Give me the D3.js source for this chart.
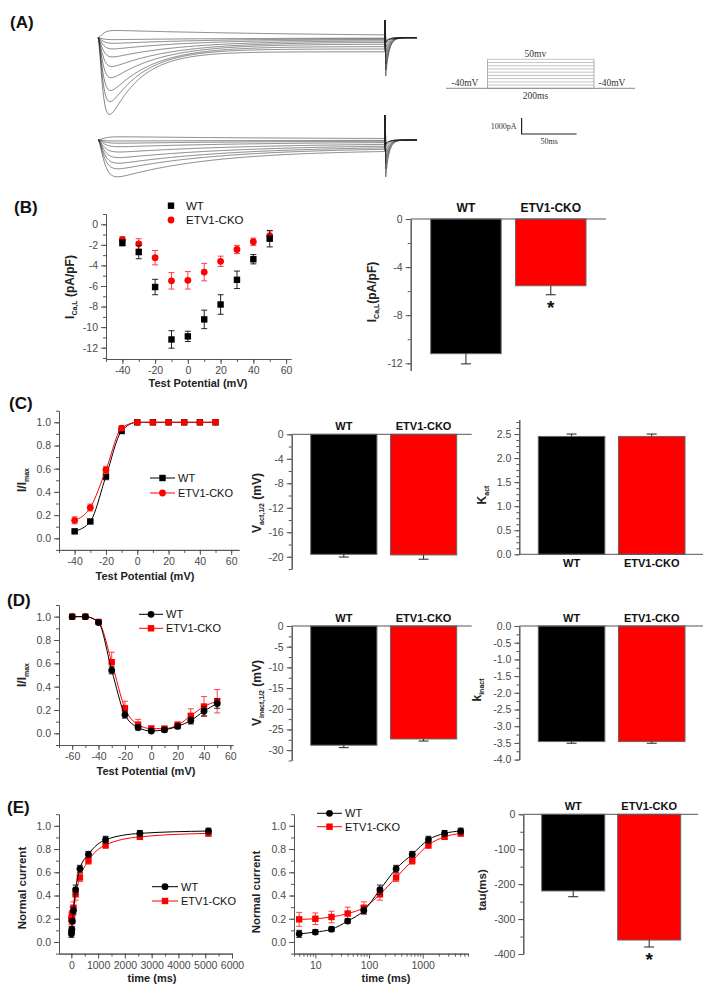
<!DOCTYPE html>
<html>
<head>
<meta charset="utf-8">
<script src="https://cdn.jsdelivr.net/npm/d3@7/dist/d3.min.js"></script>
<style>
  body { margin: 0; background: #fff; }
</style>
</head>
<body>
<svg id="fig" width="709" height="990"></svg>
<script>
// ---- data ----
const groups = ['WT', 'ETV1-CKO'];

// (A) raw traces: peak amplitude (pA) and inactivation tau (ms) of each sweep
const wtTracePeak = [4800, 4000, 3300, 2500, 1800, 1200, 700, 350, 120, -450];
const wtTraceTau = [28, 32, 38, 45, 55, 65, 75, 90, 110, 200];
const ckoTracePeak = [2300, 1800, 1450, 1100, 750, 420, 200, 60, -200];
const ckoTraceTau = [85, 95, 105, 115, 125, 135, 145, 160, 200];

// (B) I-V
const ivVoltage = [-40, -30, -20, -10, 0, 10, 20, 30, 40, 50];
const ivWT = [-1.8, -2.7, -6.1, -11.2, -10.9, -9.25, -7.8, -5.4, -3.4, -1.4];
const ivWTErr = [0.3, 0.65, 0.75, 0.85, 0.5, 0.9, 0.95, 0.85, 0.45, 0.8];
const ivCKO = [-1.5, -1.9, -3.25, -5.5, -5.45, -4.65, -3.6, -2.45, -1.7, -1.1];
const ivCKOErr = [0.3, 0.5, 0.7, 0.8, 0.85, 0.85, 0.5, 0.4, 0.35, 0.45];
const peakCurrent = [-11.2, -5.55];
const peakCurrentErr = [0.85, 0.75];

// (C) activation
const actVoltage = [-40, -30, -20, -10, 0, 10, 20, 30, 40, 50];
const actWT = [0.06, 0.145, 0.535, 0.925, 1, 1, 1, 1, 1, 1];
const actWTErr = [0.01, 0.01, 0.03, 0.02, 0, 0, 0, 0, 0, 0];
const actCKO = [0.155, 0.265, 0.59, 0.95, 1, 1, 1, 1, 1, 1];
const actCKOErr = [0.03, 0.03, 0.03, 0.02, 0, 0, 0, 0, 0, 0];
const vHalfAct = [-19.6, -19.7];
const vHalfActErr = [0.45, 0.7];
const kAct = [2.45, 2.45];
const kActErr = [0.05, 0.05];

// (D) inactivation
const inactVoltage = [-60, -50, -40, -30, -20, -10, 0, 10, 20, 30, 40, 50];
const inactWT = [1.0, 1.0, 0.95, 0.54, 0.16, 0.05, 0.02, 0.03, 0.06, 0.11, 0.19, 0.255];
const inactWTErr = [0.005, 0.005, 0.01, 0.03, 0.03, 0.02, 0.015, 0.02, 0.02, 0.03, 0.04, 0.04];
const inactCKO = [1.0, 1.0, 0.955, 0.61, 0.215, 0.075, 0.04, 0.04, 0.07, 0.15, 0.23, 0.275];
const inactCKOErr = [0.005, 0.005, 0.01, 0.085, 0.06, 0.045, 0.025, 0.02, 0.03, 0.06, 0.085, 0.1];
const vHalfInact = [-28.8, -27.3];
const vHalfInactErr = [0.6, 0.5];
const kInact = [-3.46, -3.46];
const kInactErr = [0.05, 0.05];

// (E) recovery
const recTime = [5, 10, 20, 40, 80, 160, 320, 640, 1280, 2560, 5120];
const recWT = [0.07, 0.085, 0.11, 0.18, 0.27, 0.45, 0.63, 0.755, 0.88, 0.935, 0.955];
const recWTErr = [0.03, 0.02, 0.02, 0.02, 0.03, 0.04, 0.03, 0.025, 0.03, 0.025, 0.025];
const recCKO = [0.195, 0.2, 0.215, 0.245, 0.295, 0.41, 0.555, 0.7, 0.835, 0.905, 0.935];
const recCKOErr = [0.06, 0.05, 0.05, 0.055, 0.05, 0.05, 0.035, 0.03, 0.03, 0.02, 0.025];
const tauRec = [-219.5, -360];
const tauRecErr = [16.5, 20];

// ---- helpers ----
const FONT = '"Liberation Sans", Arial, sans-serif';
const SERIF = '"Liberation Serif", "Times New Roman", serif';
const AX = '#555';
const RED = '#ff0000';
const svg = d3.select('#fig');

const fmtInt = d => String(d);
const fmt1 = d => d.toFixed(1);

function styleAxis(g) {
  g.attr('font-family', FONT).attr('font-size', 10.5);
  g.select('.domain').attr('stroke', AX);
  g.selectAll('.tick line').attr('stroke', AX);
  g.selectAll('.tick text').attr('fill', '#4a4a4a');
}

function leftAxis(y, x0, major, minor, fmt) {
  const gm = svg.append('g').attr('transform', `translate(${x0},0)`)
    .call(d3.axisLeft(y).tickValues(minor).tickSize(3).tickSizeOuter(0).tickFormat(''));
  styleAxis(gm);
  const g = svg.append('g').attr('transform', `translate(${x0},0)`)
    .call(d3.axisLeft(y).tickValues(major).tickSize(5).tickSizeOuter(0).tickFormat(fmt));
  styleAxis(g);
}

function bottomAxis(x, y0, major, minor, fmt) {
  const gm = svg.append('g').attr('transform', `translate(0,${y0})`)
    .call(d3.axisBottom(x).tickValues(minor).tickSize(3).tickSizeOuter(0).tickFormat(''));
  styleAxis(gm);
  const g = svg.append('g').attr('transform', `translate(0,${y0})`)
    .call(d3.axisBottom(x).tickValues(major).tickSize(5).tickSizeOuter(0).tickFormat(fmt));
  styleAxis(g);
}

function panelLabel(txt, x, y) {
  svg.append('text').attr('x', x).attr('y', y).text(txt)
    .attr('font-family', FONT).attr('font-weight', 'bold').attr('font-size', 17).attr('fill', '#111');
}

// rotated title, parts = [[text, isSub], ...]
function yTitle(parts, x, y, size) {
  const t = svg.append('text').attr('transform', `translate(${x},${y}) rotate(-90)`)
    .attr('text-anchor', 'middle').attr('font-family', FONT).attr('font-weight', 'bold')
    .attr('font-size', size || 11.5).attr('fill', '#222');
  let shifted = false;
  parts.forEach(([s, sub]) => {
    const ts = t.append('tspan').text(s);
    if (sub && !shifted) { ts.attr('dy', 3).attr('font-size', 7); shifted = true; }
    else if (!sub && shifted) { ts.attr('dy', -3); shifted = false; }
  });
}

function xTitle(txt, x, y) {
  svg.append('text').attr('x', x).attr('y', y).attr('text-anchor', 'middle').text(txt)
    .attr('font-family', FONT).attr('font-weight', 'bold').attr('font-size', 11).attr('fill', '#222');
}

function marker(g, shape, cx, cy, color) {
  if (shape === 'square') {
    g.append('rect').attr('x', cx - 3.2).attr('y', cy - 3.2).attr('width', 6.4).attr('height', 6.4).attr('fill', color);
  } else {
    g.append('circle').attr('cx', cx).attr('cy', cy).attr('r', 3.4).attr('fill', color);
  }
}

function series(x, y, xs, vals, errs, color, errColor, shape, withLine) {
  const pts = xs.map((d, i) => ({ t: d, v: vals[i], e: errs[i] }));
  const g = svg.append('g');
  if (withLine) {
    g.append('path').datum(pts)
      .attr('d', d3.line().x(d => x(d.t)).y(d => y(d.v)).curve(d3.curveMonotoneX))
      .attr('fill', 'none').attr('stroke', color).attr('stroke-width', 1);
  }
  g.selectAll('path.err').data(pts.filter(d => d.e > 0)).join('path').attr('class', 'err')
    .attr('d', d => {
      const cx = x(d.t), y1 = y(d.v - d.e), y2 = y(d.v + d.e);
      return `M${cx},${y1}V${y2}M${cx - 3},${y1}H${cx + 3}M${cx - 3},${y2}H${cx + 3}`;
    })
    .attr('fill', 'none').attr('stroke', errColor).attr('stroke-width', 1);
  pts.forEach(d => marker(g, shape, x(d.t), y(d.v), color));
}

function legendRow(x0, x1, y, shape, color, label, withLine, size, textX) {
  const g = svg.append('g');
  if (withLine) g.append('line').attr('x1', x0).attr('x2', x1).attr('y1', y).attr('y2', y).attr('stroke', color).attr('stroke-width', 1);
  marker(g, shape, (x0 + x1) / 2, y, color);
  g.append('text').attr('x', textX || x1 + 3).attr('y', y + 4).text(label)
    .attr('font-family', FONT).attr('font-size', size || 11).attr('fill', '#111');
}

function barPanel(o) {
  const x = d3.scaleBand().domain(groups).range(o.band).paddingInner(0.17);
  const y = d3.scaleLinear().domain(o.yDomain).range(o.yRange);
  const y0 = y(0);
  const colors = ['#000', RED];
  const g = svg.append('g');
  g.selectAll('rect').data(o.values).join('rect')
    .attr('x', (d, i) => x(groups[i]))
    .attr('width', x.bandwidth())
    .attr('y', d => Math.min(y(d), y0))
    .attr('height', d => Math.abs(y(d) - y0))
    .attr('fill', (d, i) => colors[i])
    .attr('stroke', '#666').attr('stroke-width', 1);
  g.selectAll('path.err').data(o.values).join('path').attr('class', 'err')
    .attr('d', (d, i) => {
      const cx = x(groups[i]) + x.bandwidth() / 2;
      const ye = y(d < 0 ? d - o.errors[i] : d + o.errors[i]);
      return `M${cx},${y(d)}V${ye}M${cx - 5},${ye}H${cx + 5}`;
    })
    .attr('fill', 'none').attr('stroke', '#222').attr('stroke-width', 1);
  // category axis line
  svg.append('line').attr('x1', o.axisX).attr('x2', o.lineEnd).attr('y1', y0).attr('y2', y0)
    .attr('stroke', AX).attr('stroke-width', 1);
  leftAxis(y, o.axisX, o.major, o.minor, o.fmt);
  groups.forEach((name, i) => {
    svg.append('text').attr('x', x(name) + x.bandwidth() / 2)
      .attr('y', o.labelsBelow ? y0 + 13 : y0 - o.labelGap)
      .attr('text-anchor', 'middle').text(name)
      .attr('font-family', FONT).attr('font-weight', 'bold').attr('font-size', o.labelSize).attr('fill', '#111');
  });
  (o.stars || []).forEach(i => {
    const d = o.values[i];
    svg.append('text').attr('x', x(groups[i]) + x.bandwidth() / 2)
      .attr('y', y(d - o.errors[i]) + 19).attr('text-anchor', 'middle').text('*')
      .attr('font-family', FONT).attr('font-weight', 'bold').attr('font-size', 19).attr('fill', '#111');
  });
}

// ---- (A) traces ----
panelLabel('(A)', 10, 28);
const traceX = d3.scaleLinear().domain([0, 290]).range([98, 417]);
const stepEnd = 261;
const yTraceWT = d3.scaleLinear().domain([0, -1000]).range([37.7, 53.7]);
const yTraceCKO = d3.scaleLinear().domain([0, -1000]).range([140, 156]);

function tracePoints(peak, tauInact, tauAct, sus, tailGain, spikeUp) {
  const shape = t => Math.pow(1 - Math.exp(-t / tauAct), 2) * ((1 - sus) * Math.exp(-t / tauInact) + sus);
  const steps = d3.range(0, stepEnd, 0.5);
  const norm = d3.max(steps, shape);
  const pts = steps.map(t => [t, -peak * shape(t) / norm]);
  const tail = Math.max(250, tailGain * Math.abs(peak));
  pts.push([stepEnd, spikeUp], [stepEnd + 0.6, -tail]);
  d3.range(stepEnd + 1, 290.5, 0.5).forEach(t => pts.push([t, -tail * Math.exp(-(t - stepEnd - 0.6) / 3)]));
  return pts;
}

function traceSet(peaks, taus, yScale, tauAct, sus, tailGain, spikeUp) {
  const line = d3.line().x(d => traceX(d[0])).y(d => yScale(d[1]));
  svg.append('g').selectAll('path').data(peaks).join('path')
    .attr('d', (p, i) => line(tracePoints(p, taus[i], tauAct, sus, tailGain, spikeUp)))
    .attr('fill', 'none').attr('stroke', '#222').attr('stroke-width', 0.7).attr('stroke-opacity', 0.8);
}
traceSet(wtTracePeak, wtTraceTau, yTraceWT, 3.5, 0.12, 0.5, 1100);
traceSet(ckoTracePeak, ckoTraceTau, yTraceCKO, 4.5, 0.22, 1.0, 1560);

// voltage protocol
const protoT = d3.scaleLinear().domain([-78, 277]).range([446, 635]);
const protoV = d3.scaleLinear().domain([-40, 50]).range([88.3, 59.3]);
svg.append('g').selectAll('line').data(ivVoltage).join('line')
  .attr('x1', protoT(0)).attr('x2', protoT(200))
  .attr('y1', d => protoV(d)).attr('y2', d => protoV(d))
  .attr('stroke', '#aaa').attr('stroke-width', 0.7);
[0, 200].forEach(t => svg.append('line').attr('x1', protoT(t)).attr('x2', protoT(t))
  .attr('y1', protoV(-40)).attr('y2', protoV(50)).attr('stroke', '#999').attr('stroke-width', 0.8));
svg.append('line').attr('x1', protoT(-78)).attr('x2', protoT(277)).attr('y1', protoV(-40)).attr('y2', protoV(-40))
  .attr('stroke', '#888').attr('stroke-width', 1);
function serifText(txt, x, y, size, anchor) {
  svg.append('text').attr('x', x).attr('y', y).text(txt).attr('text-anchor', anchor || 'middle')
    .attr('font-family', SERIF).attr('font-size', size).attr('fill', '#333');
}
serifText('50mv', protoT(90), 56.5, 9.5);
serifText('-40mV', 465, 85.5, 9.5);
serifText('-40mV', 612, 85.5, 9.5);
serifText('200ms', protoT(90), 99, 9.5);
// scale bar
const sbX = 521.6, sbY = 134;
const barLen = traceX(50) - traceX(0);
const barH = yTraceWT(-1000) - yTraceWT(0);
svg.append('path').attr('d', `M${sbX},${sbY - barH}V${sbY}H${sbX + barLen}`)
  .attr('fill', 'none').attr('stroke', '#222').attr('stroke-width', 1.2);
serifText('1000pA', sbX - 5, 128.5, 8, 'end');
serifText('50ms', sbX + barLen / 2, 144, 8);

// ---- (B) ----
panelLabel('(B)', 14, 213);
const xB = d3.scaleLinear().domain([-50, 63]).range([106, 291]);
const yB = d3.scaleLinear().domain([-13.1, 1]).range([359, 214]);
leftAxis(yB, 106, d3.range(0, -13, -2), d3.range(-13, 2, 1), fmtInt);
bottomAxis(xB, 359, [-40, -20, 0, 20, 40, 60], d3.range(-50, 61, 10), fmtInt);
series(xB, yB, ivVoltage, ivCKO, ivCKOErr, RED, '#ff4040', 'circle', false);
series(xB, yB, ivVoltage, ivWT, ivWTErr, '#000', '#222', 'square', false);
yTitle([['I', false], ['Ca,L', true], [' (pA/pF)', false]], 74, 287, 12);
xTitle('Test Potential (mV)', 198, 387);
legendRow(168, 174, 205.7, 'square', '#000', 'WT', false, 11.5, 186);
legendRow(168, 174, 220, 'circle', RED, 'ETV1-CKO', false, 11.5, 186);

barPanel({
  values: peakCurrent, errors: peakCurrentErr, band: [430.7, 586], axisX: 410.7, lineEnd: 606,
  yDomain: [-12.6, 0], yRange: [370.5, 219], major: [0, -4, -8, -12], minor: d3.range(0, -12.6, -2),
  fmt: fmtInt, labelGap: 7, labelSize: 12, stars: [1]
});
yTitle([['I', false], ['Ca,L', true], ['(pA/pF)', false]], 376, 292, 12);

// ---- (C) ----
panelLabel('(C)', 9, 409);
const xC = d3.scaleLinear().domain([-50, 65]).range([59, 239]);
const yC = d3.scaleLinear().domain([-0.1, 1.1]).range([549.9, 410.7]);
leftAxis(yC, 59, d3.range(0, 1.01, 0.2), d3.range(-0.1, 1.11, 0.1), fmt1);
bottomAxis(xC, 549.9, [-40, -20, 0, 20, 40, 60], d3.range(-50, 61, 10), fmtInt);
series(xC, yC, actVoltage, actWT, actWTErr, '#000', '#222', 'square', true);
series(xC, yC, actVoltage, actCKO, actCKOErr, RED, '#ff4040', 'circle', true);
legendRow(150, 175, 478, 'square', '#000', 'WT', true, 11);
legendRow(150, 175, 493, 'circle', RED, 'ETV1-CKO', true, 11);
yTitle([['I/I', false], ['max', true]], 26, 480, 12);
xTitle('Test Potential (mV)', 145, 580);

barPanel({
  values: vHalfAct, errors: vHalfActErr, band: [310.7, 456.7], axisX: 291.7, lineEnd: 471.7,
  yDomain: [-22, 0], yRange: [569, 434.3], major: d3.range(0, -21, -4), minor: d3.range(0, -22.1, -2),
  fmt: fmtInt, labelGap: 4.5, labelSize: 11
});
yTitle([['V', false], ['act,1/2', true], [' (mV)', false]], 261, 503, 12);

barPanel({
  values: kAct, errors: kActErr, band: [538.3, 685], axisX: 519.3, lineEnd: 703,
  yDomain: [0, 2.8], yRange: [554.3, 419.6], major: d3.range(0, 2.51, 0.5), minor: d3.range(0, 2.81, 0.125),
  fmt: fmt1, labelsBelow: true, labelSize: 11
});
yTitle([['K', false], ['act', true]], 486, 495, 12);

// ---- (D) ----
panelLabel('(D)', 7, 606);
const xD = d3.scaleLinear().domain([-70, 62]).range([59, 233]);
const yD = d3.scaleLinear().domain([-0.1, 1.1]).range([745, 605]);
leftAxis(yD, 59, d3.range(0, 1.01, 0.2), d3.range(-0.1, 1.11, 0.1), fmt1);
bottomAxis(xD, 745, [-60, -40, -20, 0, 20, 40, 60], d3.range(-70, 61, 10), fmtInt);
series(xD, yD, inactVoltage, inactCKO, inactCKOErr, RED, '#ff4040', 'square', true);
series(xD, yD, inactVoltage, inactWT, inactWTErr, '#000', '#222', 'circle', true);
legendRow(139, 163, 614.3, 'circle', '#000', 'WT', true, 11);
legendRow(139, 163, 628.3, 'square', RED, 'ETV1-CKO', true, 11);
yTitle([['I/I', false], ['max', true]], 26, 675, 12);
xTitle('Test Potential (mV)', 146, 775);

barPanel({
  values: vHalfInact, errors: vHalfInactErr, band: [310.7, 456.7], axisX: 291.7, lineEnd: 471.7,
  yDomain: [-32.5, 0], yRange: [760.5, 626], major: d3.range(0, -31, -5), minor: d3.range(0, -32.6, -2.5),
  fmt: fmtInt, labelGap: 4.5, labelSize: 11
});
yTitle([['V', false], ['inact,1/2', true], [' (mV)', false]], 261, 693, 12);

barPanel({
  values: kInact, errors: kInactErr, band: [538.3, 685], axisX: 519.3, lineEnd: 703,
  yDomain: [-4, 0], yRange: [759.6, 626], major: d3.range(0, -4.01, -0.5), minor: d3.range(0, -4.01, -0.25),
  fmt: fmt1, labelGap: 4.5, labelSize: 11
});
yTitle([['k', false], ['inact', true]], 481, 690, 12);

// ---- (E) ----
panelLabel('(E)', 7, 813);
const xE = d3.scaleLinear().domain([-460, 6000]).range([59, 232]);
const yE = d3.scaleLinear().domain([-0.1, 1.1]).range([953.6, 814.2]);
leftAxis(yE, 59, d3.range(0, 1.01, 0.2), d3.range(-0.1, 1.11, 0.1), fmt1);
bottomAxis(xE, 953.6, d3.range(0, 6001, 1000), d3.range(0, 6001, 500), fmtInt);
series(xE, yE, recTime, recCKO, recCKOErr, RED, '#ff4040', 'square', true);
series(xE, yE, recTime, recWT, recWTErr, '#000', '#222', 'circle', true);
legendRow(152, 178, 886.7, 'circle', '#000', 'WT', true, 11);
legendRow(152, 178, 901, 'square', RED, 'ETV1-CKO', true, 11);
yTitle([['Normal current', false]], 26, 888, 11.5);
xTitle('time (ms)', 152, 982);

const xE2 = d3.scaleLog().domain([4, 7000]).range([294, 468]);
const logMinor = [4, 5, 6, 7, 8, 9, 20, 30, 40, 50, 60, 70, 80, 90, 200, 300, 400, 500, 600, 700, 800, 900, 2000, 3000, 4000, 5000, 6000, 7000];
leftAxis(yE, 294, d3.range(0, 1.01, 0.2), d3.range(-0.1, 1.11, 0.1), fmt1);
bottomAxis(xE2, 953.6, [10, 100, 1000], logMinor, fmtInt);
series(xE2, yE, recTime, recCKO, recCKOErr, RED, '#ff4040', 'square', true);
series(xE2, yE, recTime, recWT, recWTErr, '#000', '#222', 'circle', true);
legendRow(317, 342, 813.3, 'circle', '#000', 'WT', true, 11);
legendRow(317, 342, 826.7, 'square', RED, 'ETV1-CKO', true, 11);
yTitle([['Normal current', false]], 260, 892, 11.5);
xTitle('time (ms)', 386, 982);

barPanel({
  values: tauRec, errors: tauRecErr, band: [541.7, 680.7], axisX: 523.3, lineEnd: 698,
  yDomain: [-400, 0], yRange: [954, 814.3], major: d3.range(0, -401, -100), minor: d3.range(0, -401, -50),
  fmt: fmtInt, labelGap: 4.5, labelSize: 11, stars: [1]
});
yTitle([['tau(ms)', false]], 486, 890, 11.5);
</script>
</body>
</html>
